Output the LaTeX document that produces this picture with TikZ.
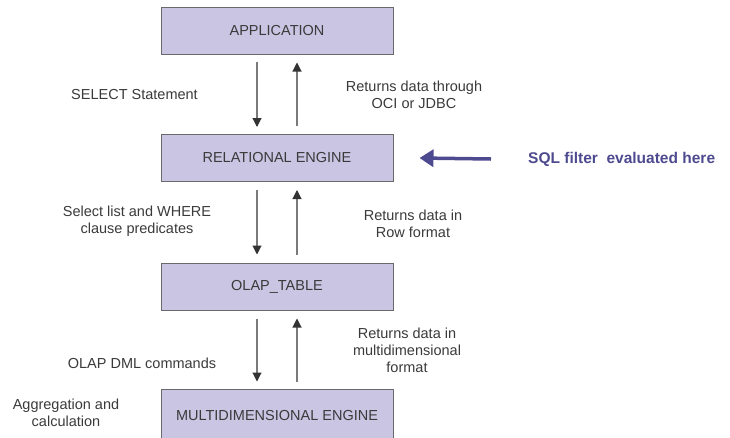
\documentclass[tikz,border=0pt]{standalone}
\usepackage{fontspec}
\setmainfont{Liberation Sans}
\usetikzlibrary{arrows.meta}
\definecolor{boxfill}{HTML}{C9C5E3}
\definecolor{boxline}{HTML}{6A6A6A}
\definecolor{txt}{HTML}{3A3A3A}
\definecolor{flowline}{HTML}{7A7A7A}
\definecolor{tipcol}{HTML}{333333}
\definecolor{accent}{HTML}{4E4A8F}
\begin{document}
\begin{tikzpicture}[x=1pt,y=-1pt,
  layer/.style={draw=boxline, line width=1pt, fill=boxfill, minimum width=232pt,
    minimum height=47pt, inner sep=0pt, text=txt, font=\fontsize{14.5}{17}\selectfont},
  note/.style={inner sep=0pt, align=center, text=txt, font=\fontsize{14.5}{17}\selectfont},
  flow/.style={draw=flowline, line width=1.1pt,
    -{Triangle[length=9pt,width=9pt,fill=tipcol,color=tipcol]}},
  pointer/.style={draw=accent, line width=3.5pt,
    -{Triangle[length=14pt,width=17pt,fill=accent,color=accent]}}]
\useasboundingbox (0,0) rectangle (730,437);

% stack of processing layers
\node[layer] (app) at (277,30.5) {APPLICATION};
\node[layer] (rel) at (277,158) {RELATIONAL ENGINE};
\node[layer] (olap) at (277,286.5) {OLAP\_TABLE};
\node[layer, minimum height=52pt] (mde) at (277,415) {MULTIDIMENSIONAL ENGINE};

% requests going down, data coming back up
\draw[flow] ([xshift=-20pt,yshift=-7pt]app.south) -- ([xshift=-20pt,yshift=7pt]rel.north);
\draw[flow] ([xshift=20pt,yshift=8pt]rel.north) -- ([xshift=20pt,yshift=-8pt]app.south);
\draw[flow] ([xshift=-20pt,yshift=-8pt]rel.south) -- ([xshift=-20pt,yshift=8pt]olap.north);
\draw[flow] ([xshift=20pt,yshift=8pt]olap.north) -- ([xshift=20pt,yshift=-8pt]rel.south);
\draw[flow] ([xshift=-20pt,yshift=-8pt]olap.south) -- ([xshift=-20pt,yshift=7pt]mde.north);
\draw[flow] ([xshift=20pt,yshift=7pt]mde.north) -- ([xshift=20pt,yshift=-8pt]olap.south);

% arrow labels
\node[note] (l1) at (134.5,95) {SELECT Statement};
\node[note] (r1) at (414,94.5) {Returns data through\\OCI or JDBC};
\node[note] (l2) at (137,221.5) {Select list and WHERE\\clause predicates};
\node[note] (r2) at (413,224) {Returns data in\\Row format};
\node[note] (l3) at (142,363) {OLAP DML commands};
\node[note] (r3) at (407,350) {Returns data in\\multidimensional\\format};
\node[note] (l4) at (66,412.5) {Aggregation and\\calculation};

% where the filter is applied
\node[inner sep=0pt, anchor=west, text=accent,
  font=\fontsize{15.5}{18}\bfseries\selectfont] (sql) at (528,159) {SQL filter\ \ evaluated here};
\draw[pointer] ([xshift=-37pt]sql.west) -- ([xshift=26pt]rel.east);
\end{tikzpicture}
\end{document}
